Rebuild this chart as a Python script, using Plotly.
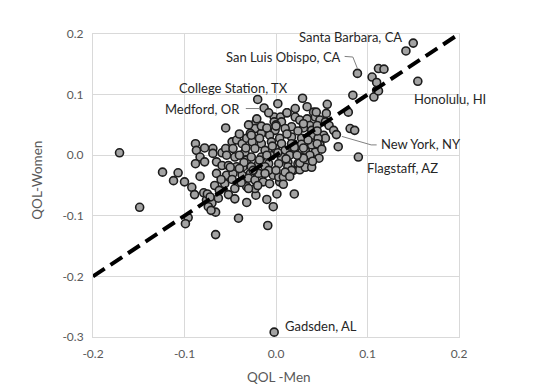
import plotly.graph_objects as go

# QOL values (men, women) per metro area
qol_men = [
    -0.171, -0.149, -0.124, -0.107, -0.112, -0.100, -0.088, -0.087, -0.083, -0.088,
    -0.078, -0.083, -0.092, -0.089, -0.079, -0.076, -0.070, -0.074, -0.066, -0.096,
    -0.099, -0.066, -0.041, -0.032, -0.009, -0.003, -0.010, -0.022, 0.001, 0.020,
    -0.069, -0.069, -0.059, -0.055, -0.048, -0.043, -0.055, -0.078, -0.065, -0.054,
    -0.037, -0.032, -0.047, -0.034, -0.045, -0.032,
    -0.020, -0.013, 0.002, 0.029, 0.021, 0.041, -0.002, 0.005, -0.002, 0.006,
    0.021, 0.026, 0.034, 0.043, 0.037, 0.039, -0.022, -0.023, 0.017, 0.030,
    -0.001, 0.010, -0.028, -0.016, -0.007, 0.004, 0.017, 0.028, 0.041, 0.048,
    -0.026, -0.016, -0.005, 0.006, 0.017, 0.028, 0.039, -0.023, -0.012, -0.001,
    0.010, 0.020, 0.032, 0.043, -0.027, -0.016, -0.005, 0.006, 0.015, 0.026,
    0.037, 0.047, -0.019, -0.008, 0.003, 0.013, 0.024, 0.034,
    0.056, 0.055, 0.079, 0.110, 0.107, 0.044, 0.048, 0.054, 0.045, 0.058,
    0.063, 0.066, 0.081, 0.086, 0.052, 0.054, 0.048, 0.068, 0.090, 0.046,
    0.150, 0.142, 0.089, 0.112, 0.118, 0.105, 0.110, 0.112, 0.155, 0.084,
    -0.075, -0.067, -0.063, -0.072, -0.071, -0.045, -0.054, -0.047, -0.037, -0.032,
    -0.056, -0.065, -0.059, -0.052, -0.043, -0.036, -0.028,
    0.004, 0.019, 0.026, 0.032, 0.039, 0.026, -0.030, -0.023, -0.014, -0.023,
    -0.030, -0.019, -0.012, -0.003, -0.007, 0.003, 0.008, -0.027, 0.013,
    0.045, 0.037, 0.017, 0.030, 0.023, -0.021, -0.027, -0.016, -0.050, -0.040,
    0.010, -0.008, 0.000, 0.012,
    -0.040, -0.035, -0.025, -0.018, -0.010, -0.004, 0.002, 0.011, 0.020, 0.030,
    0.035, 0.024, 0.012, 0.000, -0.010, -0.018, -0.033, -0.040, -0.048, -0.038,
    -0.020, -0.012, 0.000, 0.008, 0.015, -0.060, -0.062, -0.052, -0.045, 0.030,
    0.045, 0.050, 0.040, 0.012, -0.008, 0.034, -0.030, -0.040,
    -0.002,
]
qol_women = [
    0.004, -0.086, -0.028, -0.029, -0.042, -0.044, 0.019, 0.008, -0.003, -0.014,
    -0.011, -0.035, -0.053, -0.065, -0.062, -0.074, -0.079, -0.085, -0.094, -0.103,
    -0.113, -0.131, -0.104, -0.078, -0.116, -0.085, -0.073, -0.066, -0.064, -0.064,
    0.011, 0.003, 0.004, 0.011, 0.022, 0.025, 0.045, 0.012, -0.011, 0.000,
    0.019, 0.028, 0.011, 0.005, -0.003, -0.008,
    0.092, 0.078, 0.085, 0.094, 0.077, 0.071, 0.063, 0.063, 0.055, 0.055,
    0.063, 0.058, 0.060, 0.063, 0.049, 0.041, 0.054, 0.044, 0.047, 0.045,
    0.041, 0.044, 0.036, 0.036, 0.033, 0.028, 0.030, 0.028, 0.033, 0.022,
    0.022, 0.019, 0.022, 0.019, 0.019, 0.018, 0.017, 0.011, 0.008, 0.011,
    0.008, 0.008, 0.008, 0.005, -0.003, -0.003, -0.001, -0.003, 0.000, -0.004,
    -0.003, -0.005, -0.014, -0.014, -0.014, -0.012, -0.014, -0.014,
    0.084, 0.069, 0.071, 0.107, 0.096, 0.071, 0.058, 0.055, 0.049, 0.049,
    0.041, 0.034, 0.044, 0.041, 0.033, 0.028, 0.017, 0.014, -0.003, 0.028,
    0.185, 0.172, 0.135, 0.143, 0.142, 0.129, 0.120, 0.106, 0.122, 0.099,
    -0.064, -0.050, -0.071, -0.069, -0.091, -0.055, -0.033, -0.030, -0.033, -0.052,
    -0.047, -0.030, -0.017, -0.017, -0.019, -0.019, -0.030,
    -0.044, -0.025, -0.024, -0.020, -0.020, -0.013, -0.038, -0.041, -0.044, -0.055,
    -0.055, -0.030, -0.019, -0.033, -0.047, -0.036, -0.036, -0.019, -0.019,
    0.019, 0.000, -0.025, -0.005, 0.000, 0.060, 0.033, 0.048, -0.020, -0.045,
    -0.028, -0.025, 0.050, 0.070,
    0.000, -0.012, -0.025, -0.008, 0.000, 0.015, 0.004, -0.006, 0.013, 0.012,
    0.025, 0.040, 0.035, 0.048, 0.045, 0.028, 0.012, -0.022, -0.040, -0.045,
    -0.050, -0.030, -0.025, -0.048, -0.035, -0.040, -0.058, -0.065, -0.072, 0.052,
    0.040, 0.010, -0.010, 0.070, 0.070, 0.080, 0.050, 0.035,
    -0.292,
]

# parity line y = x
parity_x = [-0.2, 0.2]
parity_y = [-0.2, 0.2]

# labelled cities
label_text = ["Santa Barbara, CA", "San Luis Obispo, CA", "College Station, TX",
              "Medford, OR", "Honolulu, HI", "New York, NY", "Flagstaff, AZ", "Gadsden, AL"]
label_x = [0.140, 0.073, 0.015, -0.037, 0.149, 0.113, 0.097, 0.008]
label_y = [0.195, 0.162, 0.111, 0.077, 0.092, 0.018, -0.021, -0.282]
label_side = ["right", "right", "right", "right", "left", "left", "left", "left"]

x_ticks = [-0.2, -0.1, 0.0, 0.1, 0.2]
x_tick_text = ["-0.2", "-0.1", "0.0", "0.1", "0.2"]
y_ticks = [-0.3, -0.2, -0.1, 0.0, 0.1, 0.2]
y_tick_text = ["-0.3", "-0.2", "-0.1", "0.0", "0.1", "0.2"]

fig = go.Figure()
fig.add_trace(go.Scatter(
    x=qol_men, y=qol_women, mode="markers",
    marker=dict(size=8, color="#a3a3a3", line=dict(color="#1c1c1c", width=1.6)),
    hoverinfo="x+y", showlegend=False,
))
fig.add_trace(go.Scatter(
    x=parity_x, y=parity_y, mode="lines",
    line=dict(color="black", width=4, dash="14px,7px"),
    hoverinfo="skip", showlegend=False,
))

for t, x, y, s in zip(label_text, label_x, label_y, label_side):
    fig.add_annotation(x=x, y=y, text=t, showarrow=False, xanchor=s, yanchor="middle",
                       font=dict(family="Lato", size=13, color="#262626"))

lead = dict(color="#808080", width=1)
fig.add_shape(type="path", path="M 0.075 0.163 L 0.084 0.162 L 0.089 0.143", line=lead)
fig.add_shape(type="line", x0=-0.033, y0=0.077, x1=-0.018, y1=0.077, line=lead)
fig.add_shape(type="path", path="M 0.072 0.031 L 0.104 0.017 L 0.110 0.017", line=lead)

# axis titles
title_font = dict(family="Lato", size=13.5, color="#595959")
fig.add_annotation(xref="paper", yref="paper", x=0.508, y=-0.133, text="QOL -Men",
                   showarrow=False, xanchor="center", yanchor="middle", font=title_font)
fig.add_annotation(xref="paper", yref="paper", x=-0.154, y=0.518, text="QOL-Women",
                   showarrow=False, xanchor="center", yanchor="middle", textangle=-90,
                   font=title_font)

axis_common = dict(
    showgrid=True, gridcolor="#d9d9d9", gridwidth=1, automargin=False,
    zeroline=False, showline=True, mirror=True, linecolor="#d9d9d9", linewidth=1,
    ticks="", tickfont=dict(family="Lato", size=12, color="#595959"),
)
fig.update_xaxes(range=[-0.2, 0.2], tickvals=x_ticks, ticktext=x_tick_text, ticklabelstandoff=6, **axis_common)
fig.update_yaxes(range=[-0.3, 0.2], tickvals=y_ticks, ticktext=y_tick_text, ticklabelstandoff=6, **axis_common)

# page body has an 8px default margin, so the figure is sized to fit inside it
fig.update_layout(
    width=532, height=379,
    margin=dict(l=85, r=81, t=26, b=50),
    plot_bgcolor="white", paper_bgcolor="white",
    font=dict(family="Lato"),
)
fig.write_html("out.html")
